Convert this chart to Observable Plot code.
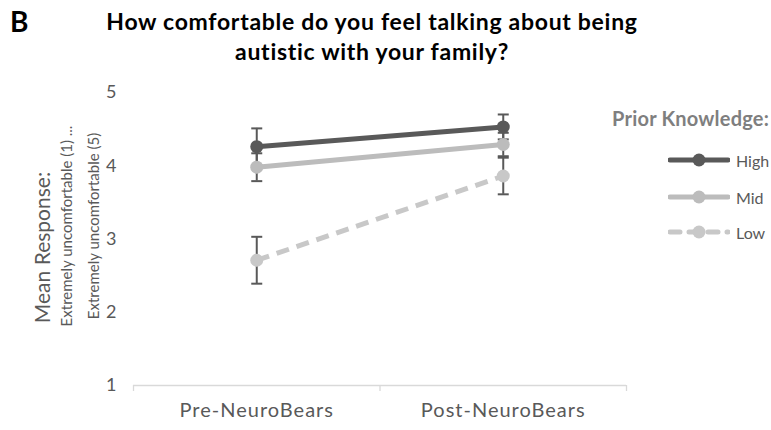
<!DOCTYPE html>
<html><head><meta charset="utf-8">
<script src="https://cdn.jsdelivr.net/npm/d3@7"></script>
<script src="https://cdn.jsdelivr.net/npm/@observablehq/plot@0.6"></script>
<style>
body{margin:0;background:#fff;font-family:Lato,"Open Sans",sans-serif;}
#wrap{position:relative;width:771px;height:430px;overflow:hidden;background:#fff;}
#head{height:70px;position:relative;}
#letter{position:absolute;left:10px;top:5px;font-weight:700;font-size:28px;line-height:32px;color:#000;}
#title{position:absolute;left:0;width:744px;top:6px;text-align:center;font-weight:700;font-size:23px;letter-spacing:0.7px;line-height:30px;color:#000;}
#legend{position:absolute;left:0;top:0;width:771px;height:430px;pointer-events:none;}
#legtitle{position:absolute;right:2px;top:105px;font-weight:700;font-size:20px;letter-spacing:0.2px;line-height:26px;color:#7f7f7f;white-space:nowrap;}
.item{position:absolute;left:668px;height:20px;display:flex;align-items:center;font-size:16px;color:#595959;}
.item svg{margin-right:6px;}
#chart svg [aria-label="x-axis tick label"] text{letter-spacing:1px;}
</style></head>
<body>
<div id="wrap">
  <div id="head">
    <div id="letter">B</div>
    <div id="title">How comfortable do you feel talking about being<br>autistic with your family?</div>
  </div>
  <div id="chart"></div>
  <div id="legend"><div id="legtitle"></div></div>
</div>
<script>
const phases = ["Pre-NeuroBears", "Post-NeuroBears"];
const groups = ["High", "Mid", "Low"];
const highMeans = [4.26, 4.53];
const highErr = [0.25, 0.17];
const midMeans = [3.98, 4.29];
const midErr = [0.19, 0.16];
const lowMeans = [2.71, 3.86];
const lowErr = [0.32, 0.25];
const yTicks = [1, 2, 3, 4, 5];
const legendTitle = "Prior Knowledge:";
const yTitle1 = "Mean Response:";
const yTitle2 = "Extremely uncomfortable (1) ...\nExtremely uncomfortable (5)";

const styles = {
  High: {stroke: "#595959", dash: null},
  Mid: {stroke: "#bcbcbc", dash: null},
  Low: {stroke: "#c8c8c8", dash: "13,8"}
};
const meansBy = {High: highMeans, Mid: midMeans, Low: lowMeans};
const errBy = {High: highErr, Mid: midErr, Low: lowErr};

const rows = groups.flatMap(g => phases.map((p, i) => ({
  group: g, phase: p, xi: i + 0.5, mean: meansBy[g][i], err: errBy[g][i]
})));
const caps = rows.flatMap(d => [{xi: d.xi, y: d.mean - d.err}, {xi: d.xi, y: d.mean + d.err}]);

const capSymbol = {
  draw(context, size) {
    const r = Math.sqrt(size / Math.PI);
    context.moveTo(-r, 0);
    context.lineTo(r, 0);
  }
};

const drawOrder = ["Low", "Mid", "High"];
const seriesMarks = drawOrder.flatMap(g => {
  const data = rows.filter(d => d.group === g);
  const s = styles[g];
  return [
    Plot.line(data, {x: "xi", y: "mean", stroke: s.stroke, strokeWidth: 5, strokeDasharray: s.dash, strokeLinecap: "butt"}),
    Plot.dot(data, {x: "xi", y: "mean", r: 6.5, fill: s.stroke, stroke: "none"})
  ];
});

const chart = Plot.plot({
  width: 771,
  height: 360,
  marginLeft: 133,
  marginRight: 145,
  marginTop: 22,
  marginBottom: 45,
  style: {fontFamily: "Lato, 'Open Sans', sans-serif", background: "#fff"},
  x: {type: "linear", domain: [0, 2], axis: null},
  y: {domain: [1, 5], axis: null},
  marks: [
    Plot.ruleY([1], {stroke: "#d9d9d9", strokeWidth: 1.3}),
    Plot.axisX([0, 1, 2], {tickSize: 6, tickFormat: () => "", stroke: "#d9d9d9", strokeWidth: 1.3, label: null}),
    Plot.axisX([0.5, 1.5], {tickSize: 0, tickPadding: 17, tickFormat: d => phases[Math.floor(d)], fontSize: 20, fill: "#595959", label: null}),
    Plot.axisY(yTicks, {tickSize: 0, tickPadding: 17, tickFormat: d3.format("d"), fontSize: 18, fill: "#595959", label: null}),
    Plot.text([yTitle1], {text: d => d, frameAnchor: "left", textAnchor: "middle", rotate: -90, dx: -90, dy: 8.5, fontSize: 21, fill: "#595959"}),
    Plot.text([yTitle2], {text: d => d, frameAnchor: "left", textAnchor: "middle", rotate: -90, dx: -56.5, dy: -13, fontSize: 15, lineHeight: 1.75, fill: "#595959"}),
    Plot.ruleX(rows, {x: "xi", y1: d => d.mean - d.err, y2: d => d.mean + d.err, stroke: "#595959", strokeWidth: 2}),
    Plot.dot(caps, {x: "xi", y: "y", r: 5.5, symbol: capSymbol, stroke: "#595959", strokeWidth: 2, fill: "none"}),
    ...seriesMarks
  ]
});
document.getElementById("chart").appendChild(chart);

// legend
const legend = document.getElementById("legend");
document.getElementById("legtitle").textContent = legendTitle;
const legendTops = {High: 150, Mid: 187, Low: 222};
for (const g of groups) {
  const s = styles[g];
  const item = document.createElement("div");
  item.className = "item";
  item.style.top = legendTops[g] + "px";
  const ns = "http://www.w3.org/2000/svg";
  const svg = document.createElementNS(ns, "svg");
  svg.setAttribute("width", 62);
  svg.setAttribute("height", 16);
  const line = document.createElementNS(ns, "line");
  line.setAttribute("x1", 2); line.setAttribute("x2", 60);
  line.setAttribute("y1", 8); line.setAttribute("y2", 8);
  line.setAttribute("stroke", s.stroke);
  line.setAttribute("stroke-width", 5);
  line.setAttribute("stroke-linecap", "round");
  if (s.dash) line.setAttribute("stroke-dasharray", "10,9");
  const c = document.createElementNS(ns, "circle");
  c.setAttribute("cx", 31); c.setAttribute("cy", 8); c.setAttribute("r", 6.5);
  c.setAttribute("fill", s.stroke);
  svg.appendChild(line); svg.appendChild(c);
  item.appendChild(svg);
  const t = document.createElement("span");
  t.textContent = g;
  item.appendChild(t);
  legend.appendChild(item);
}
</script>
</body></html>
